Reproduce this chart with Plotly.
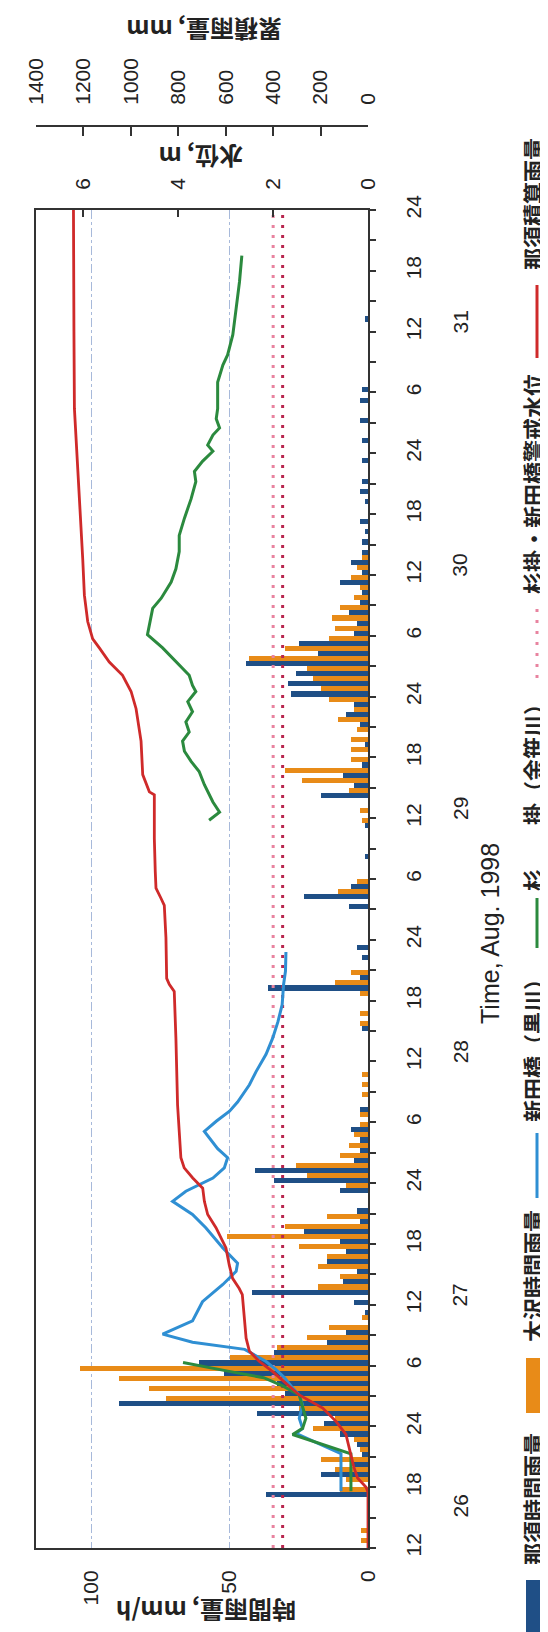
import plotly.graph_objects as go

# ---------------- data (time = hours after 26 Aug 1998 12:00) ----------------
# hourly rainfall, Nasu (那須), bar k covers hour k..k+1
nasu_hour = [5, 7, 8, 9, 10, 11, 12, 13, 14, 15, 16, 17, 18, 19, 20, 21, 23, 24, 25, 26,
             27, 28, 29, 30, 31, 32, 33, 35, 36, 37, 38, 39, 40, 41, 43, 51, 55, 56, 58, 59,
             63, 64, 65, 68, 71, 74, 75, 76, 77, 79, 81, 82, 83, 84, 85, 86, 87, 88, 89, 90,
             91, 92, 93, 94, 95, 96, 97, 98, 99, 100, 101, 103, 104, 105, 107, 109, 111, 113, 114, 121]
nasu_rain = [37, 17, 5, 2, 4, 10, 16, 40, 90, 30, 33, 52, 61, 34, 15, 8, 1, 5, 42, 9,
             4, 15, 8, 10, 23, 3, 4, 10, 34, 41, 5, 3, 3, 6, 3, 2, 36, 3, 2, 4,
             7, 23, 6, 1, 1, 17, 5, 9, 2, 1, 3, 8, 5, 28, 29, 26, 44, 18, 25, 5,
             4, 7, 3, 2, 10, 2, 6, 2, 2, 1, 3, 1, 3, 2, 2, 2, 3, 3, 2, 1]

# hourly rainfall, Osawa (大沢)
osawa_hour = [0, 1, 5, 6, 7, 8, 9, 10, 11, 12, 13, 14, 15, 16, 17, 18, 19, 20, 21, 22,
              25, 26, 27, 28, 29, 30, 31, 32, 35, 36, 37, 38, 39, 40, 41, 42, 44, 45, 46, 51,
              52, 54, 55, 56, 64, 65, 71, 72, 74, 75, 76, 77, 78, 79, 80, 81, 82, 83, 84, 85,
              86, 87, 88, 89, 90, 91, 92, 93, 94, 95, 96, 97]
osawa_rain = [2.5, 2.5, 10, 8, 12, 17, 3, 5, 20, 12, 25, 73, 79, 90, 104, 50, 33, 22, 14, 2,
              18, 10, 18, 15, 25, 51, 30, 15, 8, 22, 26, 10, 7, 5, 3, 3, 2, 2, 2, 3,
              3, 3, 12, 6, 11, 4, 2, 3, 7, 24, 30, 6, 6, 6, 4, 11, 5, 14, 17, 20,
              22, 43, 30, 14, 12, 13, 10, 5, 3, 6, 4, 2]

# water level, Shindenbashi (新田橋, 黒川), m
shinden_t = [5.6, 9.3, 11.3, 11.8, 12.8, 14.1, 15.1, 15.8, 16.8, 17.6, 18.4, 19.2, 19.6, 20.3,
             21.1, 22.4, 24.3, 26.0, 27.3, 28.1, 29.6, 31.6, 32.9, 34.2, 35.2, 36.5, 37.5, 38.5,
             39.4, 41.1, 42.1, 43.1, 44.0, 45.7, 47.0, 48.7, 50.3, 51.9, 53.6, 55.6, 56.9, 58.8]
shinden_wl = [0.57, 0.57, 1.52, 1.38, 1.45, 1.38, 1.45, 1.59, 1.76, 1.94, 2.15, 2.43, 2.6, 3.7,
              4.33, 3.70, 3.49, 3.06, 2.78, 2.75, 3.06, 3.42, 3.70, 4.12, 3.84, 3.27, 3.03, 2.96,
              3.17, 3.45, 3.20, 2.92, 2.75, 2.50, 2.36, 2.15, 2.01, 1.90, 1.81, 1.78, 1.74, 1.73]

# water level, Sugikake (杉掛, 余笹川), m  (gap while gauge was out)
sugi_t = [5.6, 9.3, 11.2, 11.8, 12.8, 14.1, 15.1, 16.0, 16.8, 17.4, 17.9, 18.3, None,
          71.8, 72.6, 73.6, 75.3, 76.6, 77.6, 78.6, 79.6, 80.5, 81.5, 82.5, 83.5, 84.5, 85.1,
          86.1, 87.4, 88.8, 90.1, 91.1, 92.7, 93.7, 95.3, 96.6, 98.3, 99.9, 101.6, 103.5, 105.2,
          106.2, 107.2, 108.2, 108.8, 109.8, 110.5, 111.4, 112.4, 115.0, 116.7, 117.7, 119.7,
          122.3, 124.9, 127.5]
sugi_wl = [0.36, 0.36, 1.59, 1.38, 1.31, 1.38, 1.45, 1.8, 2.2, 2.9, 3.5, 3.9, None,
           3.35, 3.13, 3.27, 3.45, 3.56, 3.73, 3.87, 3.91, 3.77, 3.84, 3.70, 3.80, 3.63, 3.70,
           3.77, 4.05, 4.33, 4.65, 4.61, 4.54, 4.36, 4.15, 4.05, 3.98, 3.98, 3.87, 3.73, 3.63,
           3.66, 3.49, 3.27, 3.38, 3.27, 3.13, 3.20, 3.17, 3.17, 3.06, 2.96, 2.85,
           2.78, 2.71, 2.66]

# cumulative rainfall, Nasu (那須積算雨量), mm
cum_t = [0, 5.5, 6.0, 6.9, 8.0, 9.2, 11.2, 12.5, 13.8, 15.1, 16.4, 17.4, 18.4, 19.4, 20.7, 23.0,
         25.0, 25.6, 26.6, 27.9, 29.6, 31.6, 32.9, 34.2, 35.5, 36.5, 37.5, 38.5, 40.4, 43.7, 50.3,
         54.9, 55.6, 56.2, 60.2, 63.4, 64.1, 65.1, 66.7, 70.0, 74.3, 74.6, 76.3, 79.6, 82.8, 84.5,
         86.1, 87.4, 88.8, 89.7, 91.4, 94.0, 97.6, 102.6, 109.1, 112.4, 120.0, 132.0]
cum_mm = [0, 0, 8, 44, 60, 72, 93, 135, 191, 290, 353, 402, 458, 500, 514, 521,
          530, 543, 571, 585, 599, 641, 676, 690, 697, 739, 775, 789, 793, 803, 810,
          817, 838, 849, 852, 859, 873, 894, 897, 901, 901, 922, 950, 957, 978, 999,
          1035, 1091, 1133, 1161, 1182, 1196, 1203, 1214, 1229, 1238, 1240, 1242]

# warning water levels (杉掛・新田橋警戒水位), m
warn_sugi = 2.0
warn_shinden = 1.8
time_span = [0, 132]

# tick labels
time_tickvals = list(range(0, 133, 3))
time_ticktext = [str(((12 + h) % 24) or 24) if h % 6 == 0 else "" for h in time_tickvals]
day_labels = ["26", "27", "28", "29", "30", "31"]
day_pos = [4.2, 25, 49, 73, 97, 121]
rain_ticks = [0, 50, 100]
wl_ticks = [0, 2, 4, 6]
cum_ticks = list(range(0, 1401, 200))

# ---------------- styling ----------------
BLUE_BAR = "#1f4f86"
ORANGE = "#e88b18"
SKY = "#2f8fd3"
GREEN = "#2b8a3e"
RED = "#cf2a2a"
PINK = "#e8839f"
CRIMSON = "#b8264f"
AX = "#333333"
LAT = "Liberation Sans"
JP = "Noto Sans CJK JP"

W, H = 548, 1632
L, R, T, B = 28, 188, 100, 92
PW, PH = W - L - R, H - T - B


def px(xp):
    return (xp - L) / PW


def py(yp):
    return (H - B - yp) / PH


fig = go.Figure()
fig.add_bar(y=[k + 0.5 for k in nasu_hour], x=nasu_rain, orientation="h",
            marker=dict(color=BLUE_BAR, line=dict(width=0)), name="那須時間雨量")
fig.add_bar(y=[k + 0.5 for k in osawa_hour], x=osawa_rain, orientation="h",
            marker=dict(color=ORANGE, line=dict(width=0)), name="大沢時間雨量")

fig.add_scatter(x=[warn_sugi] * 2, y=time_span, xaxis="x2", mode="lines",
                line=dict(color=PINK, width=3, dash="3px,7px"))
fig.add_scatter(x=[warn_shinden] * 2, y=time_span, xaxis="x2", mode="lines",
                line=dict(color=CRIMSON, width=3, dash="3px,7px"))
fig.add_scatter(x=cum_mm, y=cum_t, xaxis="x3", mode="lines",
                line=dict(color=RED, width=2.8))
fig.add_scatter(x=shinden_wl, y=shinden_t, xaxis="x2", mode="lines",
                line=dict(color=SKY, width=3))
fig.add_scatter(x=sugi_wl, y=sugi_t, xaxis="x2", mode="lines", connectgaps=False,
                line=dict(color=GREEN, width=3))

tickfont = dict(family=LAT, size=21, color="#222")
ydom_top = py(202)

fig.update_layout(
    width=W, height=H, margin=dict(l=L, r=R, t=T, b=B),
    paper_bgcolor="white", plot_bgcolor="white", showlegend=False,
    barmode="group", bargap=0.0, bargroupgap=0.0,
    xaxis=dict(range=[120, 0], domain=[0, 1], anchor="y", side="bottom",
               tickvals=rain_ticks, tickangle=-90, ticks="", tickfont=tickfont,
               ticklabelstandoff=12, showgrid=True, gridcolor="#a7b9da", griddash="dashdot",
               gridwidth=1.2, zeroline=False, showline=True, linecolor=AX, linewidth=2),
    xaxis2=dict(range=[7, 0], overlaying="x", side="top", anchor="y",
                tickvals=wl_ticks, ticks="inside", ticklen=7, tickwidth=2, tickcolor=AX,
                tickangle=-90, tickfont=tickfont, ticklabelstandoff=14,
                showline=True, linecolor=AX, linewidth=2, showgrid=False, zeroline=False),
    xaxis3=dict(range=[1400, 0], overlaying="x", side="top", anchor="free", position=py(118),
                tickvals=cum_ticks, ticks="inside", ticklen=9, tickwidth=2, tickcolor=AX,
                tickangle=-90, tickfont=tickfont, ticklabelstandoff=16,
                showline=True, linecolor=AX, linewidth=2, showgrid=False, zeroline=False),
    yaxis=dict(range=[0, 132], domain=[0, ydom_top], side="right", anchor="x",
               tickvals=time_tickvals, ticktext=time_ticktext, ticks="outside", ticklen=6,
               tickwidth=1.5, tickcolor=AX, tickangle=-90, tickfont=tickfont,
               ticklabelstandoff=20, showline=True, mirror=True, linecolor=AX, linewidth=2,
               showgrid=False, zeroline=False),
)

ann = []
for lab, pos in zip(day_labels, day_pos):
    ann.append(dict(text=lab, xref="paper", yref="y", x=px(452), y=pos, showarrow=False,
                    textangle=-90, xanchor="center", yanchor="middle", font=tickfont))
ann.append(dict(text="Time, Aug. 1998", xref="paper", yref="paper", x=px(482), y=py(925),
                showarrow=False, textangle=-90, xanchor="center", yanchor="middle",
                font=dict(family=LAT, size=25, color="#222")))
title_font = dict(family=JP, size=24, color="#222", weight="bold")
ann.append(dict(text="時間雨量, mm/h", xref="paper", yref="paper", x=px(198), y=py(1604),
                showarrow=False, textangle=180, xanchor="center", yanchor="middle", font=title_font))
ann.append(dict(text="水位, m", xref="paper", yref="paper", x=px(193), y=py(150),
                showarrow=False, textangle=180, xanchor="center", yanchor="middle", font=title_font))
ann.append(dict(text="累積雨量, mm", xref="paper", yref="paper", x=px(196), y=py(22),
                showarrow=False, textangle=180, xanchor="center", yanchor="middle", font=title_font))

# custom legend (rotated, reading bottom to top)
leg_font = dict(family=JP, size=22, color="#222", weight="bold")
LX = 524
leg_text = [("那須時間雨量", 1491), ("大沢時間雨量", 1268), ("新田橋（黒川）", 1037),
            ("杉　　掛（余笹川）", 784), ("杉掛・新田橋警戒水位", 476), ("那須積算雨量", 196)]
for t, yc in leg_text:
    ann.append(dict(text=t, xref="paper", yref="paper", x=px(LX), y=py(yc), showarrow=False,
                    textangle=-90, xanchor="center", yanchor="middle", font=leg_font))

SX = 529
shapes = [
    dict(type="rect", xref="paper", yref="paper", x0=px(518), x1=px(540), y0=py(1628), y1=py(1572),
         fillcolor=BLUE_BAR, line=dict(width=0)),
    dict(type="rect", xref="paper", yref="paper", x0=px(518), x1=px(540), y0=py(1405), y1=py(1350),
         fillcolor=ORANGE, line=dict(width=0)),
    dict(type="line", xref="paper", yref="paper", x0=px(SX), x1=px(SX), y0=py(1190), y1=py(1125),
         line=dict(color=SKY, width=3)),
    dict(type="line", xref="paper", yref="paper", x0=px(SX), x1=px(SX), y0=py(940), y1=py(890),
         line=dict(color=GREEN, width=3)),
    dict(type="line", xref="paper", yref="paper", x0=px(SX), x1=px(SX), y0=py(670), y1=py(600),
         line=dict(color=PINK, width=3, dash="3px,8px")),
    dict(type="line", xref="paper", yref="paper", x0=px(SX), x1=px(SX), y0=py(350), y1=py(277),
         line=dict(color=RED, width=3)),
]
fig.update_layout(annotations=ann, shapes=shapes)

fig.write_html("out.html")
